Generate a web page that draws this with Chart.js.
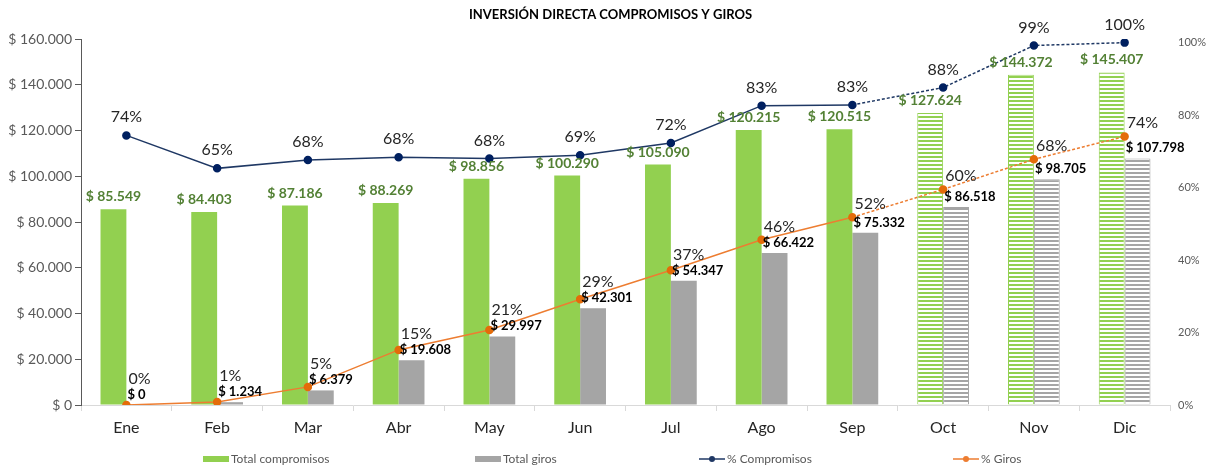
<!DOCTYPE html>
<html>
<head>
<meta charset="utf-8">
<title>Inversión directa compromisos y giros</title>
<script src="https://cdn.jsdelivr.net/npm/chart.js@4.4.1/dist/chart.umd.min.js"></script>
<style>
    html, body { margin: 0; padding: 0; background: #fff; }
    #wrap { width: 1211px; height: 467px; position: relative; }
</style>
</head>
<body>
<div id="wrap"><canvas id="chart"></canvas></div>
<script>
// data
const months = ['Ene', 'Feb', 'Mar', 'Abr', 'May', 'Jun', 'Jul', 'Ago', 'Sep', 'Oct', 'Nov', 'Dic'];
const totalCompromisos = [85549, 84403, 87186, 88269, 98856, 100290, 105090, 120215, 120515, 127624, 144372, 145407];
const totalGiros = [0, 1234, 6379, 19608, 29997, 42301, 54347, 66422, 75332, 86518, 98705, 107798];
const pctCompromisos = [74.4, 65.3, 67.6, 68.4, 68.0, 68.9, 72.3, 82.6, 82.8, 87.6, 99.2, 100];
const pctGiros = [0, 0.8, 5.0, 15.2, 20.7, 29.2, 37.2, 45.6, 51.8, 59.5, 67.8, 74.1];
const moneyTicks = [0, 20000, 40000, 60000, 80000, 100000, 120000, 140000, 160000];
const pctTicks = [0, 20, 40, 60, 80, 100];
const firstProjected = 9; // Oct..Dic are projections (hatched bars, dashed lines)

const FONT = 'Lato, "Open Sans", sans-serif';
const GREEN = '#92D050';
const GRAY = '#A5A5A5';
const NAVY = '#1F3864';
const ORANGE = '#ED7D31';

function money(v) {
    return '$ ' + String(Math.round(v)).replace(/\B(?=(\d{3})+(?!\d))/g, '.');
}

function stripes(color) {
    const c = document.createElement('canvas');
    c.width = 8;
    c.height = 4;
    const g = c.getContext('2d');
    g.fillStyle = '#fff';
    g.fillRect(0, 0, 8, 4);
    g.fillStyle = color;
    g.fillRect(0, 0, 8, 2);
    return g.createPattern(c, 'repeat');
}

const greenStripes = stripes(GREEN);
const grayStripes = stripes(GRAY);

const isProjected = ctx => ctx.dataIndex >= firstProjected;

// title, value labels and legend drawn by hand, Excel style
const decorations = {
    id: 'decorations',
    afterDatasetsDraw(chart) {
        const ctx = chart.ctx;
        const barsC = chart.getDatasetMeta(0).data;
        const barsG = chart.getDatasetMeta(1).data;
        const ptsC = chart.getDatasetMeta(2).data;
        const ptsG = chart.getDatasetMeta(3).data;
        ctx.save();

        // green bar values
        ctx.font = 'bold 14px ' + FONT;
        ctx.fillStyle = '#538135';
        ctx.textAlign = 'center';
        ctx.textBaseline = 'alphabetic';
        barsC.forEach((b, i) => {
            ctx.fillText(money(totalCompromisos[i]), b.x, b.y - 8);
        });

        // gray bar values and % giros
        ctx.textAlign = 'left';
        barsG.forEach((b, i) => {
            const left = b.x - b.width / 2 + 1;
            const base = b.y - 6;
            ctx.font = 'bold 13px ' + FONT;
            ctx.fillStyle = '#000';
            ctx.fillText(money(totalGiros[i]), left, base);

            const p = ptsG[i];
            ctx.font = '16px ' + FONT;
            ctx.fillStyle = '#262626';
            ctx.fillText(Math.round(pctGiros[i]) + '%', p.x + 2, Math.min(p.y - 8, base - 15));
        });

        // % compromisos
        ctx.textAlign = 'center';
        ctx.font = '16px ' + FONT;
        ctx.fillStyle = '#262626';
        ptsC.forEach((p, i) => {
            ctx.fillText(Math.round(pctCompromisos[i]) + '%', p.x, p.y - 13);
        });

        ctx.restore();
    },
    afterDraw(chart) {
        const ctx = chart.ctx;
        ctx.save();
        ctx.font = 'bold 13px ' + FONT;
        ctx.fillStyle = '#000';
        ctx.textAlign = 'center';
        ctx.textBaseline = 'alphabetic';
        ctx.fillText('INVERSIÓN DIRECTA COMPROMISOS Y GIROS', chart.width / 2 + 5, 19);

        // legend
        const y = 459;
        ctx.font = '12px ' + FONT;
        ctx.textAlign = 'left';
        ctx.textBaseline = 'middle';
        const items = [
            { x: 203, label: 'Total compromisos', box: GREEN },
            { x: 475, label: 'Total giros', box: GRAY },
            { x: 699, label: '% Compromisos', line: NAVY },
            { x: 953, label: '% Giros', line: ORANGE }
        ];
        items.forEach(it => {
            if (it.box) {
                ctx.fillStyle = it.box;
                ctx.fillRect(it.x, y - 3, 26, 6);
            } else {
                ctx.strokeStyle = it.line;
                ctx.lineWidth = 1.5;
                ctx.beginPath();
                ctx.moveTo(it.x, y);
                ctx.lineTo(it.x + 26, y);
                ctx.stroke();
                ctx.fillStyle = it.line;
                ctx.beginPath();
                ctx.arc(it.x + 13, y, 3, 0, Math.PI * 2);
                ctx.fill();
            }
            ctx.fillStyle = '#595959';
            ctx.fillText(it.label, it.x + 28, y);
        });
        ctx.restore();
    }
};

new Chart(document.getElementById('chart'), {
    type: 'bar',
    data: {
        labels: months,
        datasets: [
            {
                label: 'Total compromisos',
                data: totalCompromisos,
                yAxisID: 'y',
                order: 2,
                backgroundColor: ctx => isProjected(ctx) ? greenStripes : GREEN,
                borderColor: GREEN,
                borderWidth: ctx => isProjected(ctx) ? 1 : 0,
                categoryPercentage: 0.57,
                barPercentage: 1.0
            },
            {
                label: 'Total giros',
                data: totalGiros,
                yAxisID: 'y',
                order: 2,
                backgroundColor: ctx => isProjected(ctx) ? grayStripes : GRAY,
                borderColor: GRAY,
                borderWidth: ctx => isProjected(ctx) ? 1 : 0,
                categoryPercentage: 0.57,
                barPercentage: 1.0
            },
            {
                type: 'line',
                label: '% Compromisos',
                data: pctCompromisos,
                yAxisID: 'y1',
                order: 1,
                borderColor: NAVY,
                borderWidth: 1.5,
                pointRadius: 3.5,
                pointBackgroundColor: '#002060',
                pointBorderColor: '#002060',
                tension: 0,
                segment: {
                    borderDash: ctx => ctx.p0DataIndex >= firstProjected - 1 ? [3, 2] : undefined
                }
            },
            {
                type: 'line',
                label: '% Giros',
                data: pctGiros,
                yAxisID: 'y1',
                order: 1,
                borderColor: ORANGE,
                borderWidth: 1.5,
                pointRadius: 3.5,
                pointBackgroundColor: '#E46C0A',
                pointBorderColor: '#E46C0A',
                tension: 0,
                segment: {
                    borderDash: ctx => ctx.p0DataIndex >= firstProjected - 1 ? [3, 2] : undefined
                }
            }
        ]
    },
    options: {
        responsive: true,
        maintainAspectRatio: false,
        animation: false,
        layout: { padding: { top: 39, bottom: 27, left: 0, right: 0 } },
        plugins: {
            legend: { display: false },
            title: { display: false },
            tooltip: { enabled: false }
        },
        scales: {
            x: {
                grid: { offset: true, drawOnChartArea: false, color: '#D9D9D9', tickLength: 6 },
                border: { color: '#D9D9D9' },
                ticks: { font: { family: FONT, size: 16 }, color: '#262626', padding: 7 },
                afterFit: s => { s.height = 35; }
            },
            y: {
                position: 'left',
                min: 0,
                max: 160000,
                afterBuildTicks: s => { s.ticks = moneyTicks.map(v => ({ value: v })); },
                ticks: {
                    font: { family: FONT, size: 14 },
                    color: '#595959',
                    padding: 3,
                    callback: v => money(v)
                },
                grid: { drawOnChartArea: false, color: '#595959', tickLength: 6 },
                border: { color: '#595959' },
                afterFit: s => { s.width = 81; }
            },
            y1: {
                position: 'right',
                min: 0,
                max: 101,
                afterBuildTicks: s => { s.ticks = pctTicks.map(v => ({ value: v })); },
                ticks: {
                    font: { family: FONT, size: 11 },
                    color: '#595959',
                    padding: 0,
                    callback: v => v + '%'
                },
                grid: { display: false },
                border: { display: false },
                afterFit: s => { s.width = 41; }
            }
        }
    },
    plugins: [decorations]
});
</script>
</body>
</html>
